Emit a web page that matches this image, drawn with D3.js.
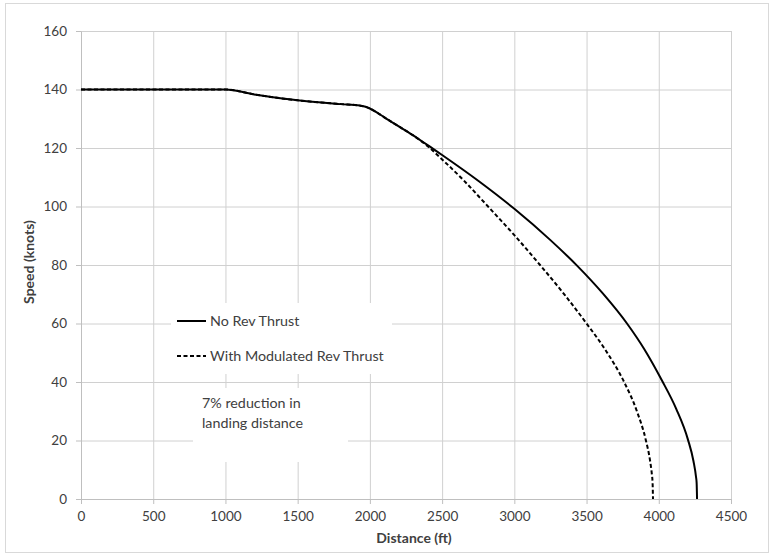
<!DOCTYPE html>
<html>
<head>
<meta charset="utf-8">
<script src="https://cdn.jsdelivr.net/npm/d3@7"></script>
<style>
  body { margin: 0; background: #fff; }
  text { font-family: Lato, "Open Sans", sans-serif; fill: #404040; }
</style>
</head>
<body>
<script>
// canvas size
var w = 771;
var h = 556;

// chart data (distance in ft, speed in knots)
var noRevDist  = [0, 1000, 1200, 1500, 1800, 1930, 1970, 2000, 2050, 2100, 2200, 2300, 2330, 2400, 2500, 2750, 3000, 3250, 3434, 3614, 3780, 3900, 4022, 4120, 4202, 4240, 4258, 4262, 4265];
var noRevSpeed = [140, 140, 138.3, 136.3, 135.0, 134.5, 134.1, 133.5, 132.1, 130.5, 127.4, 124.3, 123.3, 121.0, 117.6, 108.8, 99.2, 88.5, 79.8, 70.2, 60, 51.2, 40.5, 30.9, 20.3, 13, 7.5, 5.6, 0];

var modRevDist  = [0, 1000, 1200, 1500, 1800, 1930, 1970, 2000, 2050, 2100, 2200, 2300, 2330, 2400, 2500, 2650, 2818, 3000, 3178, 3350, 3500, 3630, 3760, 3850, 3910, 3940, 3952, 3957, 3960];
var modRevSpeed = [140, 140, 138.3, 136.3, 135.0, 134.5, 134.1, 133.5, 132.1, 130.5, 127.4, 124.3, 123.3, 120.6, 116.1, 108.9, 100, 90.2, 80, 69.7, 60, 51, 40, 29.8, 20.2, 13, 8.5, 5.7, 0];

var xTicks = [0, 500, 1000, 1500, 2000, 2500, 3000, 3500, 4000, 4500];
var yTicks = [0, 20, 40, 60, 80, 100, 120, 140, 160];

var seriesNames = ["No Rev Thrust", "With Modulated Rev Thrust"];
var noteLines = ["7% reduction in", "landing distance"];

var margin = {left: 81, top: 31, right: 40, bottom: 57};
var pw = w - margin.left - margin.right;
var ph = h - margin.top - margin.bottom;

var svg = d3.select("body")
  .append("svg")
  .attr("width", w)
  .attr("height", h);

// outer frame
svg.append("rect")
  .attr("x", 5.5).attr("y", 3.5)
  .attr("width", 763).attr("height", 549)
  .attr("fill", "#fff")
  .attr("stroke", "#d9d9d9");

var g = svg.append("g")
  .attr("transform", "translate(" + margin.left + "," + margin.top + ")");

var x = d3.scaleLinear().domain([0, 4500]).range([0, pw]);
var y = d3.scaleLinear().domain([0, 160]).range([ph, 0]);

// gridlines
g.append("g")
  .attr("class", "grid")
  .attr("transform", "translate(0," + ph + ")")
  .call(d3.axisBottom(x).tickValues(xTicks).tickSize(-ph).tickFormat(""))
  .call(function(s) { s.select(".domain").remove(); });
g.append("g")
  .attr("class", "grid")
  .call(d3.axisLeft(y).tickValues(yTicks).tickSize(-pw).tickFormat(""))
  .call(function(s) { s.select(".domain").remove(); });
g.selectAll(".grid line").attr("stroke", "#d0d0d0");

// axes
var xAxis = g.append("g")
  .attr("transform", "translate(0," + ph + ")")
  .call(d3.axisBottom(x).tickValues(xTicks).tickFormat(d3.format("d"))
    .tickSize(5).tickSizeOuter(0).tickPadding(7));
var yAxis = g.append("g")
  .call(d3.axisLeft(y).tickValues(yTicks).tickFormat(d3.format("d"))
    .tickSize(5).tickSizeOuter(0).tickPadding(9));
[xAxis, yAxis].forEach(function(a) {
  a.selectAll("line, path").attr("stroke", "#bfbfbf");
  a.selectAll("text").style("font-size", "13.5px").attr("fill", "#404040");
});

// white boxes behind legend and note
g.append("rect")
  .attr("x", 171 - margin.left).attr("y", 303 - margin.top)
  .attr("width", 221).attr("height", 71)
  .attr("fill", "#fff");
g.append("rect")
  .attr("x", 193 - margin.left).attr("y", 388 - margin.top)
  .attr("width", 155).attr("height", 74)
  .attr("fill", "#fff");

var line = d3.line()
  .x(function(d) { return x(d[0]); })
  .y(function(d) { return y(d[1]); })
  .curve(d3.curveMonotoneX);

var modData = d3.zip(modRevDist, modRevSpeed);
var noData = d3.zip(noRevDist, noRevSpeed);

g.append("path")
  .datum(modData)
  .attr("d", line)
  .attr("fill", "none")
  .attr("stroke", "#000")
  .attr("stroke-width", 2)
  .attr("stroke-dasharray", "4,2.5");

g.append("path")
  .datum(noData)
  .attr("d", line)
  .attr("fill", "none")
  .attr("stroke", "#000")
  .attr("stroke-width", 2);

// legend
var legendY = [321, 356];
seriesNames.forEach(function(name, i) {
  svg.append("line")
    .attr("x1", 177).attr("x2", 206)
    .attr("y1", legendY[i]).attr("y2", legendY[i])
    .attr("stroke", "#000")
    .attr("stroke-width", 2)
    .attr("stroke-dasharray", i == 1 ? "4,2.5" : null);
  svg.append("text")
    .attr("x", 210).attr("y", legendY[i])
    .attr("dy", "0.35em")
    .style("font-size", "14.3px")
    .text(name);
});

// note
noteLines.forEach(function(t, i) {
  svg.append("text")
    .attr("x", 202).attr("y", 403 + i * 20)
    .attr("dy", "0.35em")
    .style("font-size", "14.3px")
    .text(t);
});

// axis titles
svg.append("text")
  .attr("x", 414).attr("y", 543)
  .attr("text-anchor", "middle")
  .style("font-size", "14px")
  .style("font-weight", "bold")
  .text("Distance (ft)");

svg.append("text")
  .attr("transform", "translate(34," + 262 + ") rotate(-90)")
  .attr("text-anchor", "middle")
  .style("font-size", "14px")
  .style("font-weight", "bold")
  .text("Speed (knots)");
</script>
</body>
</html>
